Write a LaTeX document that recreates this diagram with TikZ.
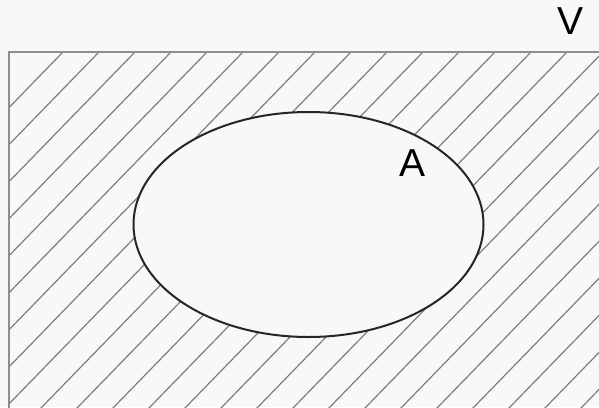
\documentclass[tikz,border=0pt]{standalone}
\usepackage{fontspec}
\setmainfont{Liberation Sans}
\usetikzlibrary{shapes.geometric}
\definecolor{paper}{HTML}{F8F8F6}
\definecolor{hatchgray}{HTML}{7E7E7E}
\definecolor{framegray}{HTML}{8E8E8E}
\begin{document}
\begin{tikzpicture}[x=1pt,y=-1pt,font=\fontsize{39}{39}\selectfont]
\useasboundingbox[fill=paper] (0,0) rectangle (599,407);
\begin{scope}
\clip (9,52) rectangle (610,415);
\foreach \k in {0,...,25}
  \draw[hatchgray,line width=1.2pt] (63+36*\k,52) -- ++(-380,391);
\end{scope}
\draw[framegray,line width=1.4pt] (610,52) -- (9,52) -- (9,415);
\node (setA) [draw=black!85,line width=2pt,ellipse,fill=paper,inner sep=0pt,
  minimum width=350,minimum height=225] at (308.5,224.5) {};
\node (labA) at (412,163) {A};
\node (labV) at (570,21) {V};
\end{tikzpicture}
\end{document}
